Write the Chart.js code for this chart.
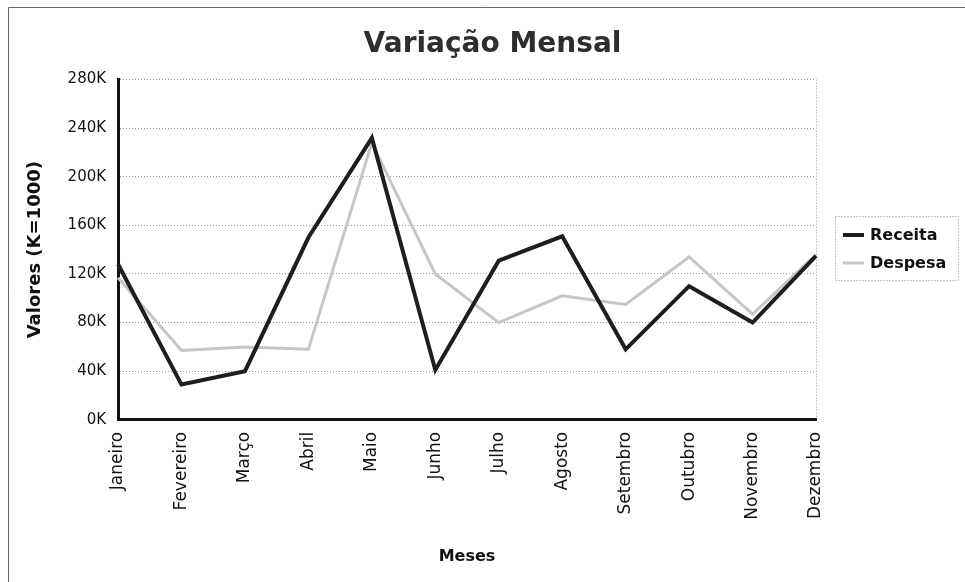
<!DOCTYPE html>
<html>
<head>
<meta charset="utf-8">
<script src="https://cdn.jsdelivr.net/npm/chart.js@4.4.1/dist/chart.umd.min.js"></script>
<style>
  html, body { margin: 0; padding: 0; background: #fff; }
  #wrap { position: relative; width: 965px; height: 582px; }
</style>
</head>
<body>
<div id="wrap"><canvas id="chart" width="965" height="582"></canvas></div>
<script>
// ===== DATA =====
const months = ['Janeiro', 'Fevereiro', 'Março', 'Abril', 'Maio', 'Junho', 'Julho', 'Agosto', 'Setembro', 'Outubro', 'Novembro', 'Dezembro'];
const receita = [128000, 29000, 40000, 150000, 232000, 41000, 131000, 151000, 58000, 110000, 80000, 135000];
const despesa = [117000, 57000, 60000, 58000, 228000, 120000, 80000, 102000, 95000, 134000, 87000, 136000];
const yTicks = [0, 40000, 80000, 120000, 160000, 200000, 240000, 280000];

const FONT = '"DejaVu Sans", Verdana, sans-serif';

// frame round the picture
const framePlugin = {
  id: 'frame',
  afterDraw(chart) {
    const c = chart.ctx;
    c.save();
    c.strokeStyle = '#666';
    c.lineWidth = 1;
    c.beginPath();
    c.moveTo(8.5, 582);
    c.lineTo(8.5, 7.5);
    c.lineTo(965, 7.5);
    c.stroke();
    c.restore();
  }
};

// boxed legend to the right of the plot, built from the datasets
const boxLegend = {
  id: 'boxLegend',
  afterDraw(chart) {
    const c = chart.ctx;
    const area = chart.chartArea;
    const x0 = area.right + 19, y0 = 216, w = 123, h = 64;
    c.save();
    c.setLineDash([1, 2]);
    c.strokeStyle = '#888';
    c.lineWidth = 1;
    c.strokeRect(x0 + 0.5, y0 + 0.5, w, h);
    c.setLineDash([]);
    c.font = 'bold 16px ' + FONT;
    c.textBaseline = 'middle';
    chart.data.datasets.forEach((ds, i) => {
      const y = y0 + 19 + i * 28;
      c.strokeStyle = ds.borderColor;
      c.lineWidth = ds.borderWidth;
      c.beginPath();
      c.moveTo(x0 + 8, y);
      c.lineTo(x0 + 29, y);
      c.stroke();
      c.fillStyle = '#111';
      c.fillText(ds.label, x0 + 35, y + 1);
    });
    c.restore();
  }
};

new Chart(document.getElementById('chart'), {
  type: 'line',
  data: {
    labels: months,
    datasets: [
      { label: 'Receita', data: receita, borderColor: '#1e1e1e', backgroundColor: '#1e1e1e', borderWidth: 4, pointRadius: 0, tension: 0 },
      { label: 'Despesa', data: despesa, borderColor: '#c6c6c6', backgroundColor: '#c6c6c6', borderWidth: 3, pointRadius: 0, tension: 0 }
    ]
  },
  options: {
    responsive: false,
    animation: false,
    layout: { padding: { left: 25, right: 5, top: 28, bottom: 16 } },
    plugins: {
      title: {
        display: true,
        text: 'Variação Mensal',
        color: '#2e2e2e',
        font: { family: FONT, size: 28, weight: 'bold' },
        padding: { top: 0, bottom: 18 }
      },
      legend: { display: false },
      tooltip: { enabled: false }
    },
    scales: {
      x: {
        offset: false,
        grid: {
          drawTicks: false,
          color: (ctx) => ctx.index === months.length - 1 ? '#999' : 'rgba(0,0,0,0)',
          lineWidth: 1
        },
        border: { display: true, color: '#111', width: 3, dash: [1, 2] },
        ticks: {
          color: '#111',
          font: { family: FONT, size: 17 },
          minRotation: 90,
          maxRotation: 90,
          padding: 12,
          autoSkip: false
        },
        title: {
          display: true,
          text: 'Meses',
          color: '#111',
          font: { family: FONT, size: 16, weight: 'bold' },
          padding: { top: 15, bottom: 0 }
        }
      },
      y: {
        min: 0,
        max: 280000,
        afterBuildTicks(axis) { axis.ticks = yTicks.map(v => ({ value: v })); },
        grid: {
          drawTicks: false,
          color: '#999',
          lineWidth: 1
        },
        border: { display: true, color: '#111', width: 3, dash: [1, 2] },
        ticks: {
          color: '#111',
          font: { family: FONT, size: 15 },
          padding: 12,
          callback: (v) => (v / 1000) + 'K'
        },
        title: {
          display: true,
          text: 'Valores (K=1000)',
          color: '#111',
          font: { family: FONT, size: 18, weight: 'bold' },
          padding: { top: 0, bottom: 9 }
        }
      },
      // empty right-hand axis that keeps room for the legend box
      legendSpace: {
        position: 'right',
        display: true,
        grid: { display: false, drawOnChartArea: false },
        border: { display: false },
        ticks: { display: false },
        afterFit(axis) { axis.width = 144; }
      }
    }
  },
  plugins: [framePlugin, boxLegend]
});
</script>
</body>
</html>
